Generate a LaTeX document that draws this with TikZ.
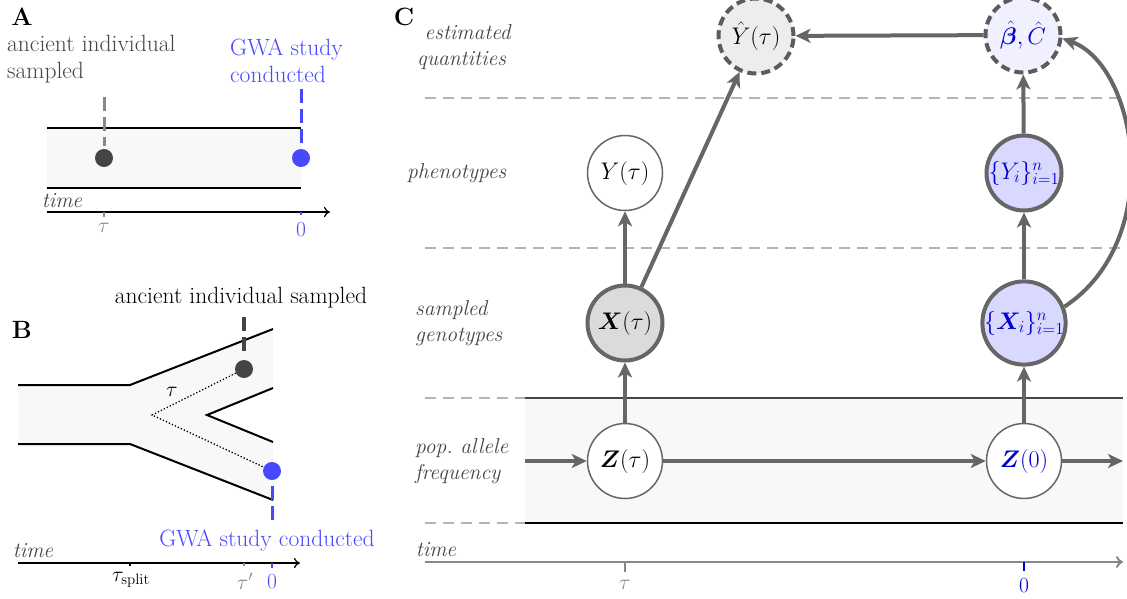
\RequirePackage{fix-cm}
\documentclass[tikz,border=0pt]{standalone}
\usepackage{bm}
\usetikzlibrary{arrows.meta}
\definecolor{bandgray}{HTML}{F8F8F8}
\definecolor{edgegray}{HTML}{666666}
\definecolor{labgray}{HTML}{444444}
\definecolor{sepgray}{HTML}{B4B4B4}
\definecolor{axgray}{HTML}{888888}
\definecolor{lblue}{HTML}{4848FF}
\definecolor{dblue}{HTML}{0000CC}
\definecolor{nodeblue}{HTML}{D9D9FF}
\definecolor{paleblue}{HTML}{F0F0FF}
\definecolor{dotdark}{HTML}{444444}
\newcommand\myfs{\fontsize{21.5}{26}\selectfont}
\newcommand\upfs{\fontsize{23.5}{27}\selectfont}
\newcommand\mathfs{\fontsize{24}{28}\selectfont}
\newcommand\panfs{\fontsize{25}{30}\selectfont}
\tikzset{
  every node/.style={font=\myfs, inner sep=0pt},
  panlab/.style={font=\panfs\bfseries},
  uptext/.style={font=\upfs},
  rowlab/.style={font=\myfs\itshape, text=labgray, align=left, anchor=west},
  bandline/.style={line width=2pt, black},
  dotA/.style={circle, minimum size=18pt, fill=dotdark},
  dotB/.style={circle, minimum size=18pt, fill=lblue},
  vdashgray/.style={line width=3pt, color=axgray, dash pattern=on 14pt off 6pt},
  vdashdark/.style={line width=3.5pt, color=labgray, dash pattern=on 14pt off 6pt},
  vdashblue/.style={line width=3pt, color=lblue, dash pattern=on 14pt off 6pt},
  sep/.style={line width=1.1pt, color=sepgray, dash pattern=on 11pt off 7pt},
  gnode/.style={circle, minimum size=75pt, inner sep=0pt, font=\mathfs},
  thinnode/.style={gnode, draw=edgegray, line width=1.5pt, fill=white},
  thicknode/.style={gnode, draw=edgegray, line width=4pt},
  estnode/.style={gnode, draw=edgegray!90!black, line width=4pt, dash pattern=on 9pt off 5pt},
  arr/.style={line width=4pt, color=edgegray, -{Stealth[length=15pt,width=14pt,inset=4pt]}},
  tickax/.style={line width=2.5pt}
}
\begin{document}
\begin{tikzpicture}[x=1pt,y=-1pt]
\useasboundingbox (0,0) rectangle (1127,598);

% ---------------- Panel A ----------------
\node[panlab] (labA) at (22,17) {A};
\node[uptext, text=labgray, align=left, anchor=west] (ancA) at (7,59) {ancient individual\\sampled};
\node[uptext, text=lblue, align=left, anchor=west] (gwaA) at (230,61) {GWA study\\conducted};
\fill[bandgray] (47,128) rectangle (301,188);
\draw[bandline] (47,128) -- (301,128);
\draw[bandline] (47,188) -- (301,188);
\draw[vdashgray] (104,97) -- (104,146);
\draw[vdashblue] (301,89) -- (301,146);
\node[dotA] (dA1) at (104,158) {};
\node[dotB] (dA2) at (301,158) {};
\draw[line width=1.2pt, -{To[length=6pt,width=10pt]}] (47,212) -- (330,212);
\node[font=\myfs\itshape, text=labgray] (timeA) at (62,201) {time};
\draw[tickax, axgray] (104,212) -- (104,217);
\node[text=axgray] (tauA) at (104,228) {$\tau$};
\draw[tickax, lblue] (301,212) -- (301,215);
\node[text=lblue] (zeroA) at (301,230) {0};

% ---------------- Panel B ----------------
\node[panlab] (labB) at (22,330) {B};
\node[uptext] (ancB) at (241,298) {ancient individual sampled};
\fill[bandgray] (18,385) -- (130,385) -- (273,329) -- (273,388) -- (207,415) -- (273,442) -- (273,500) -- (130,444) -- (18,444) -- cycle;
\draw[bandline] (18,385) -- (130,385) -- (273,329);
\draw[bandline] (273,388) -- (207,415) -- (273,442);
\draw[bandline] (18,444) -- (130,444) -- (273,500);
\coordinate (split) at (152,415);
\draw[vdashdark] (244,317) -- (244,357);
\draw[vdashblue] (272,486) -- (272,526);
\node[dotA] (dB1) at (244,369) {};
\node[dotB] (dB2) at (272,471) {};
\draw[line width=1.3pt, dotted] (dB1) -- (split) -- (dB2);
\node (tauB) at (172,392) {$\tau$};
\node[uptext, text=lblue] (gwaB) at (267,541) {GWA study conducted};
\draw[line width=1.2pt, -{To[length=6pt,width=10pt]}] (18,563) -- (300,563);
\node[font=\myfs\itshape, text=labgray] (timeB) at (33,551) {time};
\draw[line width=1.5pt] (130,563) -- (130,566);
\node (tsplit) at (131,580) {$\tau_{\mathrm{split}}$};
\draw[line width=1.5pt, axgray] (244,563) -- (244,566);
\node[text=axgray] (tprime) at (245,581) {$\tau'$};
\draw[tickax, lblue] (272,563) -- (272,568);
\node[text=lblue] (zeroB) at (272,582) {0};

% ---------------- Panel C ----------------
\node[panlab] (labC) at (404,17) {C};
\node[rowlab] (r1) at (417,47) {\ estimated\\quantities};
\node[rowlab] (r2) at (407,173) {phenotypes};
\node[rowlab] (r3) at (415,323) {sampled\\genotypes};
\node[rowlab] (r4) at (415,461) {pop.\ allele\\frequency};

\draw[sep] (425,98) -- (1127,98);
\draw[sep] (425,248) -- (1127,248);
\draw[sep] (425,398) -- (525,398);
\draw[sep] (425,523) -- (525,523);
\fill[bandgray] (525,398) rectangle (1123,523);
\draw[line width=1.5pt, labgray] (525,398) -- (1123,398);
\draw[line width=2pt, black] (525,523) -- (1123,523);

\node[estnode, fill=black!7] (Yhat) at (756,36) {$\hat{Y}(\tau)$};
\node[estnode, fill=paleblue, text=dblue] (beta) at (1023,35) {$\hat{\bm{\beta}},\hat{C}$};
\node[thinnode] (Yt) at (625,173) {$Y(\tau)$};
\node[thicknode, fill=nodeblue, text=dblue] (Yi) at (1024,173) {$\{Y_i\}_{i=1}^n$};
\node[thicknode, fill=black!14] (Xt) at (625,323) {$\bm{X}(\tau)$};
\node[thicknode, fill=nodeblue, text=dblue] (Xi) at (1024,323) {$\{\bm{X}_i\}_{i=1}^n$};
\node[thinnode] (Zt) at (625,461) {$\bm{Z}(\tau)$};
\node[thinnode, text=dblue] (Z0) at (1024,461) {$\bm{Z}(0)$};

\coordinate (inZ) at (525,461);
\coordinate (outZ) at (1123,461);
\draw[arr] (inZ) -- (Zt);
\draw[arr] (Zt) -- (Z0);
\draw[arr] (Z0) -- (outZ);
\draw[arr] (Zt) -- (Xt);
\draw[arr] (Xt) -- (Yt);
\draw[arr] (Xt) -- (Yhat);
\draw[arr] (Z0) -- (Xi);
\draw[arr] (Xi) -- (Yi);
\draw[arr] (Yi) -- (beta);
\draw[arr] (beta) -- (Yhat);
\draw[arr] (Xi.22) .. controls (1166,240) and (1138,66) .. (beta.-5);

\draw[line width=2pt, axgray, -{To[length=7pt,width=12pt]}] (425,562) -- (1123,562);
\node[font=\myfs\itshape, text=labgray] (timeC) at (436,550) {time};
\draw[tickax, axgray] (625,562) -- (625,572);
\node[text=axgray] (tauC) at (625,585) {$\tau$};
\draw[tickax, dblue] (1024,562) -- (1024,571);
\node[text=dblue] (zeroC) at (1024,586) {0};
\end{tikzpicture}
\end{document}
